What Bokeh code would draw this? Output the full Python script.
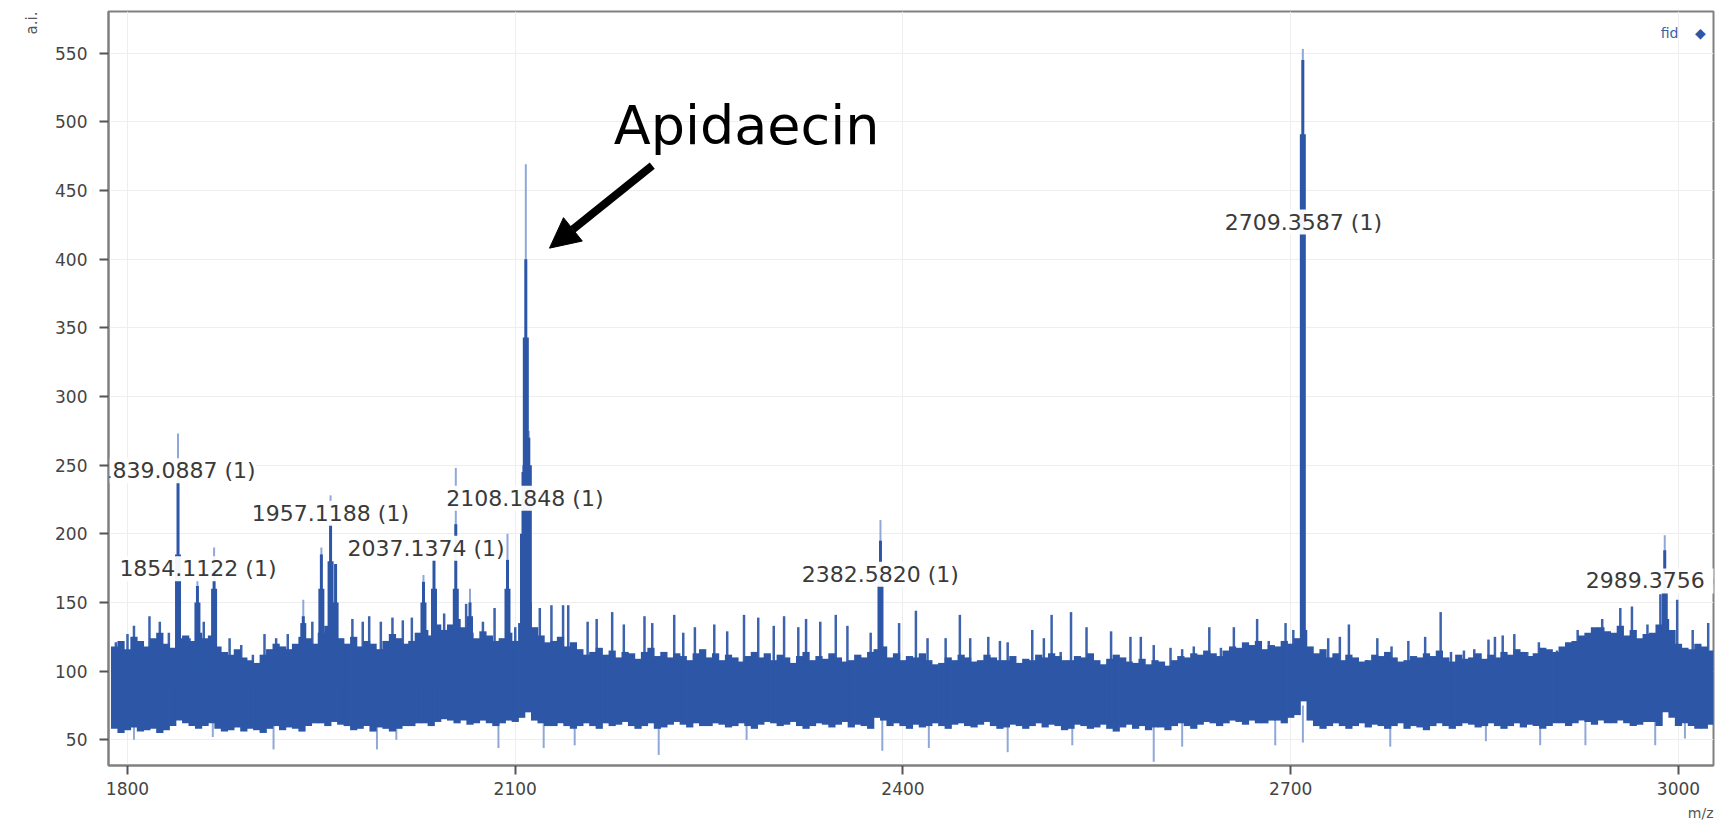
import math
from bokeh.plotting import figure
from bokeh.models import Range1d, FixedTicker, Label, Arrow, NormalHead, Title
from bokeh.core.properties import value
from bokeh.embed import file_html
from bokeh.resources import INLINE

# ---------------- data ----------------
x_ticks = [1800, 2100, 2400, 2700, 3000]
y_ticks = [50, 100, 150, 200, 250, 300, 350, 400, 450, 500, 550]

# noise band, slots at 1790, 1800, ... : upper and lower edge of the dense band
band_mz = [1790, 1800, 1810, 1820, 1830, 1840, 1850, 1860, 1870, 1880,
           1890, 1900, 1910, 1920, 1930, 1940, 1950, 1960, 1970, 1980,
           1990, 2000, 2010, 2020, 2030, 2040, 2050, 2060, 2070, 2080,
           2090, 2100, 2110, 2120, 2130, 2140, 2150, 2160, 2170, 2180,
           2190, 2200, 2210, 2220, 2230, 2240, 2250, 2260, 2270, 2280,
           2290, 2300, 2310, 2320, 2330, 2340, 2350, 2360, 2370, 2380,
           2390, 2400, 2410, 2420, 2430, 2440, 2450, 2460, 2470, 2480,
           2490, 2500, 2510, 2520, 2530, 2540, 2550, 2560, 2570, 2580,
           2590, 2600, 2610, 2620, 2630, 2640, 2650, 2660, 2670, 2680,
           2690, 2700, 2710, 2720, 2730, 2740, 2750, 2760, 2770, 2780,
           2790, 2800, 2810, 2820, 2830, 2840, 2850, 2860, 2870, 2880,
           2890, 2900, 2910, 2920, 2930, 2940, 2950, 2960, 2970, 2980,
           2990, 3000, 3010, 3020, 3030]
band_hi = [118, 116, 122, 124, 120, 124, 122, 124, 118, 112,
           110, 106, 116, 118, 120, 124, 128, 130, 120, 118,
           120, 122, 124, 122, 130, 134, 134, 132, 124, 126,
           124, 122, 150, 126, 122, 118, 116, 114, 112, 110,
           113, 114, 111, 110, 111, 113, 110, 108, 110, 111,
           110, 108, 110, 111, 108, 109, 110, 108, 110, 116,
           110, 108, 110, 108, 106, 108, 110, 108, 110, 108,
           106, 108, 110, 111, 108, 110, 108, 109, 110, 106,
           105, 107, 108, 110, 112, 113, 115, 117, 119, 116,
           118, 120, 130, 113, 110, 108, 110, 108, 111, 110,
           108, 110, 111, 110, 112, 110, 109, 110, 112, 114,
           113, 116, 118, 122, 128, 132, 128, 126, 124, 128,
           138, 120, 116, 118, 118]
band_lo = [58, 57, 56, 58, 57, 64, 60, 60, 58, 57,
           56, 57, 58, 57, 58, 60, 62, 63, 60, 58,
           56, 58, 58, 60, 62, 63, 64, 64, 62, 62,
           62, 63, 70, 62, 60, 60, 60, 60, 62, 61,
           60, 60, 58, 61, 61, 62, 60, 61, 60, 60,
           61, 62, 61, 60, 60, 61, 61, 59, 60, 66,
           60, 60, 61, 60, 60, 61, 60, 61, 60, 59,
           60, 60, 59, 60, 58, 60, 59, 58, 59, 58,
           57, 59, 60, 60, 61, 62, 62, 63, 64, 62,
           64, 66, 78, 60, 60, 60, 60, 59, 60, 60,
           58, 59, 60, 60, 60, 61, 60, 60, 60, 59,
           60, 60, 62, 62, 63, 64, 62, 62, 61, 63,
           70, 60, 60, 58, 60]

# noise band, in-between slots at 1795, 1805, ...
band2_mz = [1795, 1805, 1815, 1825, 1835, 1845, 1855, 1865, 1875, 1885,
            1895, 1905, 1915, 1925, 1935, 1945, 1955, 1965, 1975, 1985,
            1995, 2005, 2015, 2025, 2035, 2045, 2055, 2065, 2075, 2085,
            2095, 2105, 2115, 2125, 2135, 2145, 2155, 2165, 2175, 2185,
            2195, 2205, 2215, 2225, 2235, 2245, 2255, 2265, 2275, 2285,
            2295, 2305, 2315, 2325, 2335, 2345, 2355, 2365, 2375, 2385,
            2395, 2405, 2415, 2425, 2435, 2445, 2455, 2465, 2475, 2485,
            2495, 2505, 2515, 2525, 2535, 2545, 2555, 2565, 2575, 2585,
            2595, 2605, 2615, 2625, 2635, 2645, 2655, 2665, 2675, 2685,
            2695, 2705, 2715, 2725, 2735, 2745, 2755, 2765, 2775, 2785,
            2795, 2805, 2815, 2825, 2835, 2845, 2855, 2865, 2875, 2885,
            2895, 2905, 2915, 2925, 2935, 2945, 2955, 2965, 2975, 2985,
            2995, 3005, 3015, 3025]
band2_hi = [122, 125, 118, 128, 117, 126, 128, 126, 114, 116,
            108, 112, 120, 116, 125, 120, 133, 124, 125, 122,
            116, 127, 120, 128, 126, 130, 138, 128, 129, 122,
            128, 135, 132, 121, 125, 121, 112, 117, 115, 114,
            109, 117, 114, 113, 108, 116, 113, 112, 107, 114,
            113, 112, 106, 114, 111, 113, 107, 112, 114, 118,
            113, 111, 113, 105, 110, 112, 107, 112, 108, 111,
            109, 112, 113, 108, 111, 113, 105, 112, 107, 109,
            108, 104, 111, 113, 115, 111, 118, 121, 122, 119,
            122, 124, 118, 116, 113, 112, 107, 112, 114, 107,
            111, 113, 115, 107, 109, 113, 112, 114, 116, 111,
            117, 114, 121, 126, 132, 129, 133, 130, 127, 134,
            130, 117, 120, 115]
band2_lo = [55, 59, 57, 55, 60, 62, 58, 62, 56, 59,
            58, 55, 60, 59, 56, 62, 60, 61, 57, 60,
            59, 56, 60, 62, 60, 65, 62, 61, 64, 60,
            64, 66, 64, 60, 62, 58, 62, 58, 60, 63,
            58, 62, 59, 63, 59, 60, 62, 59, 62, 58,
            63, 60, 63, 58, 62, 59, 63, 61, 58, 64,
            62, 58, 59, 62, 58, 62, 59, 63, 58, 61,
            58, 62, 61, 57, 61, 58, 61, 56, 61, 60,
            59, 57, 62, 58, 63, 60, 64, 61, 62, 64,
            62, 68, 64, 58, 62, 58, 62, 61, 58, 62,
            60, 57, 62, 58, 62, 59, 62, 58, 62, 61,
            58, 62, 60, 64, 61, 62, 64, 60, 63, 60,
            66, 62, 58, 61]

# single spikes rising above the band
up_mz = [1791, 1800, 1805, 1817, 1825, 1832, 1848, 1859, 1879, 1888,
         1897, 1906, 1915, 1924, 1943, 1974, 1982, 1987, 1996, 2005,
         2013, 2020, 2045, 2062, 2075, 2084, 2100, 2119, 2128, 2137,
         2141, 2156, 2163, 2175, 2184, 2200, 2206, 2223, 2230, 2239,
         2254, 2264, 2277, 2288, 2300, 2308, 2319, 2325, 2336, 2348,
         2357, 2375, 2397, 2410, 2419, 2433, 2444, 2452, 2466, 2475,
         2481, 2500, 2509, 2515, 2522, 2530, 2542, 2561, 2576, 2584,
         2594, 2607, 2616, 2625, 2637, 2646, 2656, 2666, 2674, 2683,
         2696, 2702, 2729, 2738, 2745, 2759, 2767, 2778, 2791, 2804,
         2816, 2824, 2834, 2842, 2853, 2858, 2864, 2873, 2883, 2892,
         2898, 2906, 2922, 2929, 2941, 2955, 2964, 2976, 2986, 2999,
         3011, 3023]
up_top = [121, 127, 133, 140, 136, 128, 124, 136, 124, 119,
          112, 127, 124, 127, 136, 138, 136, 140, 136, 139,
          137, 139, 142, 149, 136, 146, 132, 146, 148, 148,
          148, 136, 138, 143, 134, 140, 135, 141, 128, 132,
          134, 129, 141, 139, 133, 140, 132, 138, 136, 141,
          133, 128, 135, 144, 124, 124, 141, 124, 125, 122,
          121, 130, 124, 141, 114, 143, 132, 129, 125, 125,
          119, 117, 116, 118, 132, 117, 132, 118, 138, 122,
          135, 130, 124, 125, 134, 108, 124, 118, 122, 125,
          143, 114, 115, 116, 123, 125, 126, 127, 114, 121,
          115, 115, 130, 124, 138, 146, 147, 134, 156, 152,
          130, 135]

# single spikes dropping below the band
dn_mz = [1805, 1866, 1913, 1993, 2008, 2087, 2122, 2146, 2211, 2279,
         2384, 2420, 2481, 2531, 2594, 2616, 2688, 2709.4, 2777, 2851,
         2893, 2928, 2982, 3005]
dn_bot = [50, 52, 43, 43, 50, 44, 44, 46, 39, 50,
          42, 44, 41, 46, 34, 45, 46, 48, 45, 49,
          46, 46, 46, 51]

# peaks: apex, top of the darker part, top of the wide base
peak_mz = [1839.09, 1854.11, 1867, 1936, 1950, 1957.12, 1961, 2029,
           2037.14, 2054, 2065, 2094, 2106, 2108.18, 2110.5, 2382.58,
           2709.36, 2989.38]
peak_top = [273, 166, 190, 152, 190, 228, 178, 170,
            181, 248, 160, 200, 250, 469, 275, 210,
            553, 199]
peak_dark = [240, 162, 183, 140, 185, 207, 178, 165,
             181, 207, 150, 181, 245, 400, 270, 195,
             545, 188]
peak_base = [185, 150, 160, 135, 160, 180, 150, 150,
             160, 160, 140, 160, 200, 343, 250, 170,
             491, 157]

# peak annotations
lab_text = ["1839.0887 (1)", "1854.1122 (1)", "1957.1188 (1)", "2037.1374 (1)",
            "2108.1848 (1)", "2382.5820 (1)", "2709.3587 (1)", "2989.3756 (1)"]
lab_x = [1838.4, 1854.5, 1957, 2031, 2107.5, 2382.5, 2709.8, 2989]
lab_y = [246, 174.6, 215, 189.5, 225.8, 170.6, 427, 165.7]

# ---------------- styling ----------------
DARK = "#2d57a6"
MID = "#3d63ae"
LIGHT = "#8fa8d8"
FONT = "DejaVu Sans"

p = figure(width=1726, height=825, output_backend="svg", toolbar_location=None,
           x_range=Range1d(1785.3, 3027.1), y_range=Range1d(31.3, 580.3),
           min_border_left=108, min_border_right=13, min_border_top=11,
           min_border_bottom=58)
p.background_fill_color = "white"
p.border_fill_color = "white"
p.outline_line_color = "#808080"
p.outline_line_width = 2

for ax in (p.xaxis, p.yaxis):
    ax.axis_line_color = "#808080"
    ax.axis_line_width = 2
    ax.major_tick_line_color = "#555555"
    ax.major_tick_line_width = 2
    ax.major_tick_out = 9
    ax.major_tick_in = 0
    ax.minor_tick_line_color = None
    ax.major_label_text_font = FONT
    ax.major_label_text_font_size = "17px"
    ax.major_label_text_color = "#444444"
p.xaxis.major_label_standoff = 7
p.yaxis.major_label_standoff = 12
p.xaxis.ticker = FixedTicker(ticks=x_ticks)
p.yaxis.ticker = FixedTicker(ticks=y_ticks)
p.xgrid.ticker = FixedTicker(ticks=x_ticks)
p.ygrid.ticker = FixedTicker(ticks=y_ticks)
p.xgrid.grid_line_color = "#eeeeee"
p.ygrid.grid_line_color = "#eeeeee"

# axis titles at the ends of the axes
p.add_layout(Title(text="a.i.", align="right", text_font=FONT,
                   text_font_size="15px", text_font_style="normal",
                   text_color="#555555", standoff=24), "left")
p.add_layout(Title(text="m/z", align="right", text_font=FONT,
                   text_font_size="14px", text_font_style="normal",
                   text_color="#555555"), "below")

# spectrum
n_up = len(up_mz)
p.segment(x0=up_mz, y0=[90] * n_up, x1=up_mz, y1=up_top,
          line_color=MID, line_width=2.5)
n_dn = len(dn_mz)
p.segment(x0=dn_mz, y0=[75] * n_dn, x1=dn_mz, y1=dn_bot,
          line_color=LIGHT, line_width=2)
p.vbar(x=band_mz, width=5.6, bottom=band_lo, top=band_hi,
       fill_color=DARK, line_color=None)
p.vbar(x=band2_mz, width=5.6, bottom=band2_lo, top=band2_hi,
       fill_color=DARK, line_color=None)

n_pk = len(peak_mz)
p.segment(x0=peak_mz, y0=[90] * n_pk, x1=peak_mz, y1=peak_top,
          line_color=LIGHT, line_width=2)
p.segment(x0=peak_mz, y0=[90] * n_pk, x1=peak_mz, y1=peak_dark,
          line_color=DARK, line_width=3)
p.segment(x0=peak_mz, y0=[90] * n_pk, x1=peak_mz, y1=peak_base,
          line_color=DARK, line_width=6)

# peak labels (white background, clipped by the frame)
p.text(x=lab_x, y=lab_y, text=lab_text, text_align="center",
       text_baseline="middle", text_font=value(FONT), text_font_size="22px",
       text_color="#3a3a3a", background_fill_color="white",
       background_fill_alpha=0.95)

# Apidaecin annotation
p.add_layout(Label(x=2279, y=497, text="Apidaecin", text_align="center",
                   text_baseline="middle", text_font=FONT,
                   text_font_size="54px", text_color="black"))
p.add_layout(Arrow(end=NormalHead(size=30, fill_color="black", line_color="black"),
                   x_start=2206, y_start=468, x_end=2126.5, y_end=408,
                   line_width=8, line_color="black"))

# legend-like marker top right
p.add_layout(Label(x=3000, y=565, text="fid", text_align="right",
                   text_baseline="middle", text_font=FONT,
                   text_font_size="14px", text_color="#3b5fa8"))
p.add_layout(Label(x=3017, y=565, text="\u25c6", text_align="center",
                   text_baseline="middle", text_font=FONT,
                   text_font_size="14px", text_color=DARK))

open("out.html", "w").write(file_html(p, INLINE))
